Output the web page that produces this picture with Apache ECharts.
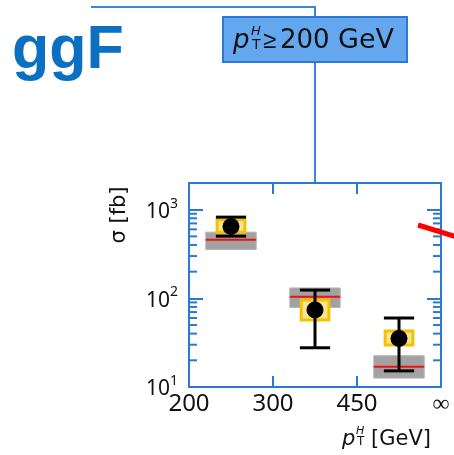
<!DOCTYPE html>
<html>
<head>
<meta charset="utf-8">
<script src="https://cdn.jsdelivr.net/npm/echarts@6/dist/echarts.min.js"></script>
<style>
html,body{margin:0;padding:0;background:#fff;}
#chart{width:454px;height:455px;}
</style>
</head>
<body>
<div id="chart"></div>
<script>
// ---- data ----
const binEdgeLabels = ['200', '300', '450', '∞'];
const binIndex = [0, 1, 2];
const measured = [647, 74, 35.3];
const totalErrLo = [503, 27.7, 15.2];
const totalErrHi = [824, 124, 60];
const systLo = [558, 57, 29.7];
const systHi = [771, 96, 42.8];
const smPred = [458, 104, 16.9];
const smLo = [356, 79, 12.6];
const smHi = [558, 131, 22.5];
const yPowerTicks = [10, 100, 1000];
const yMinorTicks = [20, 30, 40, 50, 60, 70, 80, 90, 200, 300, 400, 500, 600, 700, 800, 900];

const AXIS = '#2a7ad5';
const FONT = 'Noto Sans';
const TFONT = 'DejaVu Sans';

const binData = binIndex.map((b, i) => [b, measured[i], totalErrLo[i], totalErrHi[i], systLo[i], systHi[i], smPred[i], smLo[i], smHi[i]]);

const chart = echarts.init(document.getElementById('chart'), null, {renderer: 'canvas'});

function supLabel(v) {
  const e = Math.round(Math.log10(v));
  if (Math.abs(Math.pow(10, e) - v) > 1e-6 * v) return '';
  return '{b|10}{s|' + e + '}';
}

const axisBase = {
  axisLine: {show: true, onZero: false, lineStyle: {color: AXIS, width: 2}},
  splitLine: {show: false}
};

const option = {
  backgroundColor: '#fff',
  animation: false,
  grid: {left: 189, top: 183, width: 252, height: 204, containLabel: false, outerBoundsMode: 'none'},
  xAxis: [Object.assign({
    type: 'value', min: 0, max: 3, interval: 1, position: 'bottom',
    axisTick: {show: true, inside: true, length: 11, lineStyle: {color: AXIS, width: 2}},
    axisLabel: {
      margin: 5, color: '#111', fontFamily: FONT, fontSize: 24,
      formatter: v => binEdgeLabels[Math.round(v)] || ''
    }
  }, axisBase), Object.assign({
    type: 'value', min: 0, max: 3, interval: 1, position: 'top',
    axisTick: {show: true, inside: true, length: 11, lineStyle: {color: AXIS, width: 2}},
    axisLabel: {show: false}
  }, axisBase)],
  yAxis: [Object.assign({
    type: 'log', logBase: 10, min: 10, max: 2000, position: 'left',
    axisTick: {show: true, inside: true, length: 14, lineStyle: {color: AXIS, width: 2}},
    axisLabel: {
      margin: 11, color: '#111', fontFamily: FONT,
      formatter: v => yPowerTicks.some(t => Math.abs(t - v) < 1e-6 * t) ? supLabel(v) : '',
      rich: {
        b: {fontSize: 21, fontFamily: FONT, color: '#111', lineHeight: 26, verticalAlign: 'bottom'},
        s: {fontSize: 14, fontFamily: FONT, color: '#111', lineHeight: 14, verticalAlign: 'top'}
      }
    }
  }, axisBase), Object.assign({
    type: 'log', logBase: 10, min: 10, max: 2000, position: 'right',
    axisTick: {show: true, inside: true, length: 14, lineStyle: {color: AXIS, width: 2}},
    axisLabel: {show: false}
  }, axisBase)],
  series: [{
    type: 'custom',
    xAxisIndex: 0, yAxisIndex: 0,
    data: yMinorTicks.map(v => [0, v]),
    silent: true,
    renderItem: function (params, api) {
      const cs = params.coordSys;
      const y = api.coord([0, api.value(1)])[1];
      const st = {stroke: AXIS, lineWidth: 2};
      return {type: 'group', children: [
        {type: 'line', shape: {x1: cs.x, y1: y, x2: cs.x + 8, y2: y}, style: st},
        {type: 'line', shape: {x1: cs.x + cs.width - 8, y1: y, x2: cs.x + cs.width, y2: y}, style: st}
      ]};
    }
  }, {
    type: 'custom',
    xAxisIndex: 0, yAxisIndex: 0,
    data: binData,
    silent: true,
    renderItem: function (params, api) {
      const b = api.value(0);
      const c = b + 0.5;
      const P = (x, y) => api.coord([x, y]);
      const g1 = P(b + 0.2, api.value(8)), g2 = P(b + 0.8, api.value(7));
      const r1 = P(b + 0.2, api.value(6)), r2 = P(b + 0.8, api.value(6));
      const y1 = P(c - 0.165, api.value(5)), y2 = P(c + 0.165, api.value(4));
      const eTop = P(c, api.value(3)), eBot = P(c, api.value(2));
      const capL = P(c - 0.18, 1)[0], capR = P(c + 0.18, 1)[0];
      const m = P(c, api.value(1));
      return {type: 'group', children: [
        {type: 'rect', shape: {x: g1[0], y: g1[1], width: g2[0] - g1[0], height: g2[1] - g1[1]}, style: {fill: '#a2a2a2', stroke: '#b4b4b4', lineWidth: 1}},
        {type: 'line', shape: {x1: r1[0], y1: r1[1], x2: r2[0], y2: r2[1]}, style: {stroke: '#ee1111', lineWidth: 2}},
        {type: 'rect', shape: {x: y1[0], y: y1[1], width: y2[0] - y1[0], height: y2[1] - y1[1]}, style: {fill: '#f9e592', stroke: '#f4c300', lineWidth: 3}},
        {type: 'line', shape: {x1: eTop[0], y1: eTop[1], x2: eBot[0], y2: eBot[1]}, style: {stroke: '#000', lineWidth: 3}},
        {type: 'line', shape: {x1: capL, y1: eTop[1], x2: capR, y2: eTop[1]}, style: {stroke: '#000', lineWidth: 3}},
        {type: 'line', shape: {x1: capL, y1: eBot[1], x2: capR, y2: eBot[1]}, style: {stroke: '#000', lineWidth: 3}},
        {type: 'circle', shape: {cx: m[0], cy: m[1], r: 8.5}, style: {fill: '#000'}}
      ]};
    }
  }],
  graphic: [
    {type: 'text', left: 12, top: 21, style: {text: 'ggF', fontFamily: 'Liberation Sans', fontWeight: 'bold', fontSize: 61, fill: '#0b6fc2'}},
    {type: 'polyline', shape: {points: [[91, 7], [315, 7], [315, 17]]}, style: {stroke: '#3a86dc', lineWidth: 2, fill: null}},
    {type: 'line', shape: {x1: 315, y1: 62, x2: 315, y2: 183}, style: {stroke: '#3a86dc', lineWidth: 2}},
    {type: 'rect', shape: {x: 223, y: 17, width: 184, height: 45}, style: {fill: '#63a8ef', stroke: '#2a7ad5', lineWidth: 2}},
    {type: 'text', x: 233, y: 41, style: {text: 'p', fontFamily: TFONT, fontStyle: 'italic', fontSize: 26, fill: '#111', verticalAlign: 'middle'}},
    {type: 'text', x: 251, y: 32, style: {text: 'H', fontFamily: TFONT, fontStyle: 'italic', fontSize: 13, fill: '#111', verticalAlign: 'middle'}},
    {type: 'text', x: 252, y: 45, style: {text: 'T', fontFamily: TFONT, fontSize: 14, fill: '#111', verticalAlign: 'middle'}},
    {type: 'text', x: 263, y: 41, style: {text: '≥', fontFamily: 'Liberation Sans', fontSize: 24, fill: '#111', verticalAlign: 'middle'}},
    {type: 'text', x: 280, y: 41, style: {text: '200', fontFamily: TFONT, fontSize: 26, fill: '#111', verticalAlign: 'middle'}},
    {type: 'text', x: 338, y: 41, style: {text: 'GeV', fontFamily: TFONT, fontSize: 27, fill: '#111', verticalAlign: 'middle'}},
    {type: 'text', x: 120, y: 215, rotation: Math.PI / 2, style: {text: 'σ [fb]', fontFamily: TFONT, fontSize: 21, fill: '#111', align: 'center', verticalAlign: 'middle'}},
    {type: 'text', x: 342, y: 440, style: {text: 'p', fontFamily: TFONT, fontStyle: 'italic', fontSize: 21, fill: '#111', verticalAlign: 'middle'}},
    {type: 'text', x: 356, y: 431, style: {text: 'H', fontFamily: TFONT, fontStyle: 'italic', fontSize: 11, fill: '#111', verticalAlign: 'middle'}},
    {type: 'text', x: 357, y: 442, style: {text: 'T', fontFamily: TFONT, fontSize: 12, fill: '#111', verticalAlign: 'middle'}},
    {type: 'text', x: 371, y: 440, style: {text: '[GeV]', fontFamily: TFONT, fontSize: 21, fill: '#111', verticalAlign: 'middle'}},
    {type: 'line', z: 100, shape: {x1: 418, y1: 225, x2: 460, y2: 238}, style: {stroke: '#ff0000', lineWidth: 5}}
  ]
};
chart.setOption(option);
</script>
</body>
</html>
